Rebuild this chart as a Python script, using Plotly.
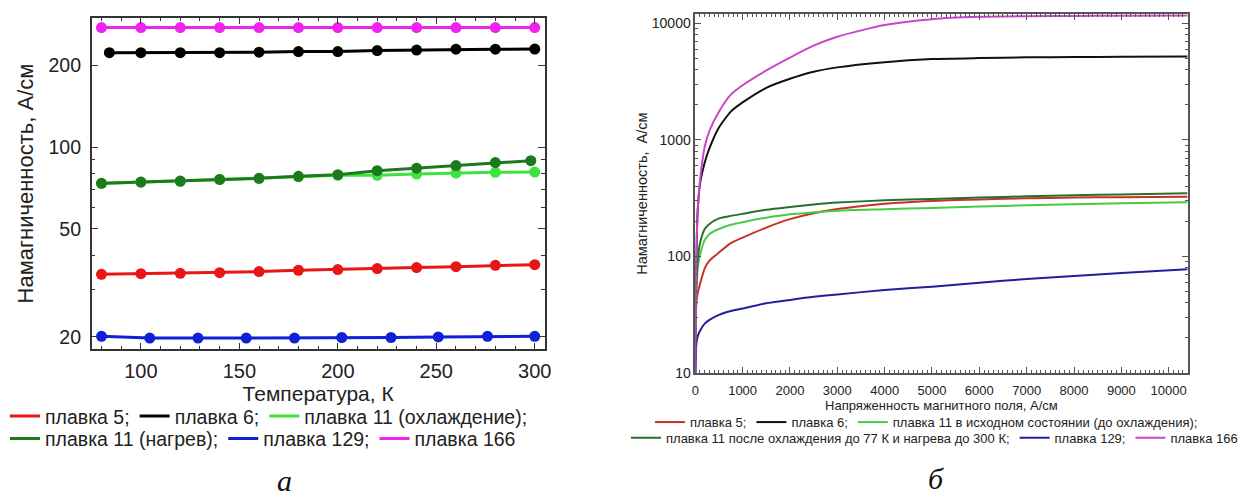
import plotly.graph_objects as go

# ---------------- Panel "а": magnetization vs temperature ----------------
T_main = [80, 100, 120, 140, 160, 180, 200, 220, 240, 260, 280, 300]
T_m6 = [84, 100, 120, 140, 160, 180, 200, 220, 240, 260, 280, 300]
T_heat = [80, 100, 120, 140, 160, 180, 200, 220, 240, 260, 280, 298]
T_m129 = [80, 104.5, 129, 153.5, 178, 202, 227, 251, 276, 300]

m5_T = [34.0, 34.2, 34.3, 34.5, 34.8, 35.2, 35.4, 35.7, 36.0, 36.3, 36.7, 36.9]
m6_T = [223, 223, 223, 223, 224, 225, 225, 227, 228, 229.6, 229.6, 230]
m11_cool_T = [73.5, 74.3, 74.9, 76.0, 76.7, 77.8, 78.8, 78.8, 79.6, 80.3, 80.8, 81.0]
m11_heat_T = [73.6, 74.4, 75.0, 76.1, 76.8, 78.1, 79.2, 81.9, 83.7, 85.6, 87.8, 89.2]
m129_T = [20.1, 19.8, 19.8, 19.8, 19.8, 19.9, 19.9, 20.0, 20.1, 20.1]
m166_T = [276, 276, 276, 276, 276, 276, 276, 276, 276, 276, 276, 276]

T_ticks = [100, 150, 200, 250, 300]
M_ticks_T = [20, 50, 100, 200]

# ---------------- Panel "б": magnetization vs field strength ----------------
H_field = [0, 10, 25, 50, 100, 200, 300, 500, 750, 1000, 1500, 2000, 2500,
           3000, 4000, 5000, 6000, 7000, 8000, 9000, 10400]
m5_H = [12, 28, 40, 48, 58, 79, 92, 108, 130, 145, 177, 209, 235, 255, 284,
        300, 309, 316, 320, 323, 326]
m6_H = [10, 40, 110, 240, 420, 640, 850, 1280, 1750, 2100, 2800, 3350, 3850,
        4200, 4650, 4950, 5050, 5120, 5150, 5180, 5200]
m11_init_H = [10, 30, 50, 78, 103, 138, 156, 172, 187, 197, 215, 230, 239,
              247, 254, 261, 268, 275, 281, 286, 292]
m11_after_H = [10, 35, 60, 93, 130, 172, 190, 212, 223, 232, 252, 266, 279,
               290, 303, 312, 320, 328, 335, 341, 348]
m129_H = [10, 15, 18, 20.5, 23, 26.5, 28.5, 31.5, 34, 35.8, 39.6, 42.3, 45,
          47.2, 51.5, 55, 59.5, 64, 68, 72, 77.6]
m166_H = [10, 40, 110, 250, 450, 880, 1200, 1750, 2450, 2950, 3950, 5100,
          6450, 7700, 9700, 10900, 11400, 11550, 11600, 11650, 11700]

H_ticks = [0, 1000, 2000, 3000, 4000, 5000, 6000, 7000, 8000, 9000, 10000]
M_ticks_H = [10, 100, 1000, 10000]

SANS = "Liberation Sans, Arial, sans-serif"
SERIF = "Liberation Serif, Times New Roman, serif"
W, H = 1243, 499

fig = go.Figure()

left_series = [
    ("плавка 5;", T_main, m5_T, "#e81616", "legend"),
    ("плавка 6;", T_m6, m6_T, "#000000", "legend"),
    ("плавка 11 (охлаждение);", T_main, m11_cool_T, "#3ee23e", "legend"),
    ("плавка 11 (нагрев);", T_heat, m11_heat_T, "#1c7a1c", "legend2"),
    ("плавка 129;", T_m129, m129_T, "#1020d8", "legend2"),
    ("плавка 166", T_main, m166_T, "#ef22ef", "legend2"),
]
for name, xs, ys, col, lg in left_series:
    fig.add_trace(go.Scatter(x=xs, y=ys, mode="lines", name=name, legend=lg,
                             line=dict(color=col, width=3),
                             xaxis="x", yaxis="y"))
for name, xs, ys, col, lg in left_series:
    fig.add_trace(go.Scatter(x=xs, y=ys, mode="markers", showlegend=False,
                             marker=dict(color=col, size=11),
                             xaxis="x", yaxis="y"))

right_series = [
    ("плавка 5;", m5_H, "#c8302a", "legend3"),
    ("плавка 6;", m6_H, "#111111", "legend3"),
    ("плавка 11 в исходном состоянии (до охлаждения);", m11_init_H, "#45cc45", "legend3"),
    ("плавка 11 после охлаждения до 77 К и нагрева до 300 К;", m11_after_H, "#2a6e2a", "legend4"),
    ("плавка 129;", m129_H, "#20209a", "legend4"),
    ("плавка 166", m166_H, "#cc44cc", "legend4"),
]
for name, ys, col, lg in right_series:
    fig.add_trace(go.Scatter(x=H_field, y=ys, mode="lines", name=name, legend=lg,
                             line=dict(color=col, width=2, shape="spline", smoothing=0.6),
                             xaxis="x2", yaxis="y2"))


def px_x(p):
    return p / W


def px_y(p):
    return 1 - p / H


axis_common = dict(showline=True, mirror="ticks", ticks="inside", showgrid=False,
                   zeroline=False)

fig.update_layout(
    width=W, height=H,
    margin=dict(l=0, r=0, t=0, b=0),
    paper_bgcolor="white", plot_bgcolor="white",
    font=dict(family=SANS, color="#222222"),
    xaxis=dict(
        domain=[px_x(89), px_x(549)], range=[75, 305], anchor="y",
        tickvals=T_ticks, ticktext=[str(v) for v in T_ticks],
        ticklen=7, tickwidth=1.3,
        linecolor="#333333", linewidth=1.5, tickcolor="#333333",
        tickfont=dict(size=20), ticklabelstandoff=3,
        minor=dict(dtick=10, tick0=0, ticks="inside", ticklen=4, tickcolor="#333333"),
        title=dict(text="Температура, К", font=dict(size=21), standoff=0),
        **axis_common,
    ),
    yaxis=dict(
        domain=[px_y(355), px_y(18)], type="log",
        range=[1.2553, 2.4771], anchor="x",
        tickvals=M_ticks_T, ticktext=[str(v) for v in M_ticks_T],
        ticklen=7, tickwidth=1.3,
        linecolor="#333333", linewidth=1.5, tickcolor="#333333",
        tickfont=dict(size=19.5), ticklabelstandoff=5,
        minor=dict(tickmode="array", tickvals=[30, 40, 60, 70, 80, 90],
                   ticks="inside", ticklen=4, tickcolor="#333333"),
        title=dict(text="Намагниченность, А/см", font=dict(size=22), standoff=9),
        **axis_common,
    ),
    xaxis2=dict(
        domain=[px_x(702), px_x(1202)], range=[0, 10400], anchor="y2",
        tickvals=H_ticks, ticktext=[str(v) for v in H_ticks],
        ticklen=6, tickwidth=1.2,
        linecolor="#555555", linewidth=1.5, tickcolor="#555555",
        tickfont=dict(size=13), ticklabelstandoff=5,
        minor=dict(dtick=100, tick0=0, ticks="inside", ticklen=3, tickcolor="#555555"),
        title=dict(text="Напряженность магнитного поля, А/см", font=dict(size=13), standoff=4),
        **axis_common,
    ),
    yaxis2=dict(
        domain=[px_y(379), px_y(14.5)], type="log", range=[1, 4.0792],
        anchor="x2",
        tickvals=M_ticks_H, ticktext=[str(v) for v in M_ticks_H],
        ticklen=6, tickwidth=1.2,
        linecolor="#555555", linewidth=1.5, tickcolor="#555555",
        tickfont=dict(size=14), ticklabelstandoff=0,
        minor=dict(tickmode="array",
                   tickvals=[20, 30, 40, 50, 60, 70, 80, 90,
                             200, 300, 400, 500, 600, 700, 800, 900,
                             2000, 3000, 4000, 5000, 6000, 7000, 8000, 9000],
                   ticks="inside", ticklen=3, tickcolor="#555555"),
        title=dict(text="Намагниченность,\u00a0 А/см", font=dict(size=14.5), standoff=1),
        **axis_common,
    ),
    legend=dict(orientation="h", x=px_x(1), xanchor="left", y=px_y(423), yanchor="middle",
                font=dict(size=19.5), bgcolor="rgba(0,0,0,0)", tracegroupgap=0),
    legend2=dict(orientation="h", x=px_x(1), xanchor="left", y=px_y(446), yanchor="middle",
                 font=dict(size=19.5), bgcolor="rgba(0,0,0,0)", tracegroupgap=0),
    legend3=dict(orientation="h", x=px_x(656), xanchor="left", y=px_y(429), yanchor="middle",
                 font=dict(size=13), bgcolor="rgba(0,0,0,0)", tracegroupgap=0),
    legend4=dict(orientation="h", x=px_x(632), xanchor="left", y=px_y(445), yanchor="middle",
                 font=dict(size=13), bgcolor="rgba(0,0,0,0)", tracegroupgap=0),
    annotations=[
        dict(text="<i>а</i>", x=px_x(285), y=px_y(488), xref="paper", yref="paper",
             xanchor="center", yanchor="middle",
             showarrow=False, font=dict(family=SERIF, size=30, color="#111111")),
        dict(text="<i>б</i>", x=px_x(946), y=px_y(486), xref="paper", yref="paper",
             xanchor="center", yanchor="middle",
             showarrow=False, font=dict(family=SERIF, size=30, color="#111111")),
    ],
)

fig.write_html("out.html")
